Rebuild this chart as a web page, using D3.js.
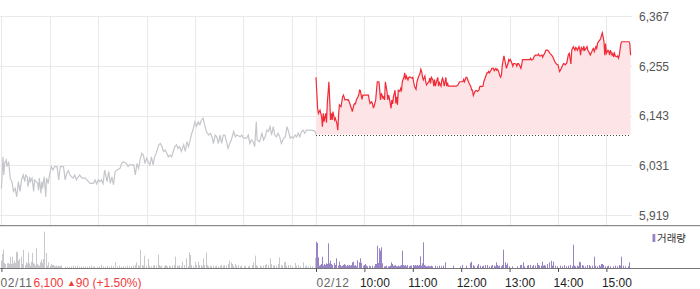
<!DOCTYPE html>
<html>
<head>
<meta charset="utf-8">
<script src="https://cdn.jsdelivr.net/npm/d3@7/dist/d3.min.js"></script>
<style>
  html, body { margin: 0; padding: 0; background: #fff; }
  svg { display: block; font-family: "Liberation Sans", Arial, sans-serif; }
</style>
</head>
<body>
<svg id="chart" width="700" height="289"></svg>
<script>
// ---------- DATA ----------
const dateLabels = ["02/11", "02/12"];
const hourLabels = ["10:00", "11:00", "12:00", "13:00", "14:00", "15:00"];
const yTicks = [5919, 6031, 6143, 6255, 6367];
const prevClose = 6100;
const summaryClose = 6100;
const summaryChange = 90;
const summaryPct = 1.50;
const legendLabel = "거래량";

// minutes after 09:00 and prices, 02/11
const day1Times = [
  0,2,3,4,6,7,9,11,13,15,
  17,19,21,23,25,27,29,30,32,33,
  35,36,38,40,41,43,45,46,47,49,
  50,51,53,55,56,58,60,62,64,66,
  69,71,73,77,79,81,83,85,87,89,
  91,93,95,97,100,104,108,110,114,116,
  118,120,122,124,126,128,131,133,135,137,
  139,141,143,147,149,151,155,157,159,164,
  166,168,170,172,174,176,178,180,182,184,
  186,188,190,192,195,197,199,201,203,205,
  207,209,211,213,215,217,219,221,223,226,
  228,230,232,234,236,238,240,242,244,246,
  248,250,252,254,257,259,261,263,265,267,
  269,271,273,275,277,279,281,283,285,288,
  290,292,296,298,300,304,306,308,310,312,
  314,316,317,320,323,325,327,329,331,333,
  335,337,339,341,343,345,347,350,352,354,
  356,358,360,362,364,366,368,370,372,374,
  376,378,383,387,389,390];
const day1Prices = [
  5979,6050,6009,6035,6043,6028,6039,6002,5994,5972,
  5979,5960,5994,5972,5998,6009,5994,6009,6005,5983,
  6005,5994,6002,5972,5998,5994,5990,5975,6002,5968,
  5994,5979,6005,5960,6002,5990,6013,6028,6020,6028,
  6028,5998,6028,6028,5998,6013,6019,6009,6005,6002,
  6009,5998,6004,6009,6002,6002,5994,5990,5990,5998,
  5989,5998,5994,5998,5990,6020,5994,6017,5990,6005,
  5987,6017,6020,6024,6035,6039,6035,6028,6032,6032,
  6009,6035,6024,6043,6058,6054,6035,6047,6039,6032,
  6050,6032,6050,6058,6077,6080,6073,6062,6065,6058,
  6050,6054,6050,6062,6073,6077,6069,6073,6062,6077,
  6062,6084,6073,6088,6103,6114,6129,6119,6129,6122,
  6133,6137,6122,6107,6099,6103,6095,6080,6099,6095,
  6080,6099,6080,6099,6099,6084,6069,6080,6088,6107,
  6095,6099,6095,6099,6092,6092,6099,6080,6088,6084,
  6073,6129,6088,6084,6103,6088,6095,6110,6107,6118,
  6099,6118,6099,6095,6103,6095,6080,6092,6095,6118,
  6107,6092,6095,6092,6099,6095,6103,6095,6107,6110,
  6103,6110,6110,6109,6107,6100];

// minutes after 09:00 and prices, 02/12
const day2Times = [
  0,2,3,5,7,8,9,10,12,13,
  14,16,17,18,19,20,21,23,24,26,
  27,28,29,31,32,33,34,36,37,38,
  39,40,42,43,44,45,47,48,49,50,
  52,53,54,55,57,58,59,65,66,67,
  69,70,71,72,74,75,76,78,79,80,
  81,83,84,85,86,88,89,90,91,93,
  94,95,96,98,99,100,101,102,104,105,
  106,107,109,110,111,112,114,115,116,117,
  119,120,121,122,124,125,126,127,129,130,
  131,132,133,135,136,137,138,140,141,142,
  143,145,146,147,148,150,151,152,153,155,
  156,157,158,159,161,162,163,164,174,176,
  178,182,183,184,186,187,188,189,190,192,
  193,194,195,197,198,199,200,202,203,204,
  205,207,208,209,210,212,213,214,215,217,
  218,220,221,223,224,225,226,228,229,230,
  231,233,234,235,236,238,239,240,241,243,
  244,245,246,248,249,250,251,252,254,255,
  256,265,266,267,269,270,271,272,275,276,
  277,278,280,281,282,283,285,287,288,290,
  291,292,293,295,296,297,298,300,301,302,
  303,305,306,307,308,309,311,312,313,314,
  316,317,318,319,321,322,323,324,326,327,
  328,329,331,332,333,334,336,337,338,339,
  340,342,343,344,345,347,348,349,350,352,
  353,354,355,357,358,359,360,362,363,364,
  365,367,368,369,370,371,373,374,375,376,
  378,379,388,389,390];
const day2Prices = [
  6229,6159,6148,6155,6140,6118,6148,6129,6148,6127,
  6170,6219,6178,6133,6148,6133,6152,6133,6137,6124,
  6110,6144,6167,6163,6174,6185,6189,6178,6179,6179,
  6178,6179,6170,6163,6159,6152,6167,6170,6169,6178,
  6185,6189,6200,6199,6179,6189,6189,6189,6178,6170,
  6174,6170,6161,6163,6178,6200,6219,6219,6200,6178,
  6193,6182,6185,6178,6219,6197,6178,6189,6182,6159,
  6178,6169,6185,6200,6170,6185,6167,6200,6197,6204,
  6200,6219,6229,6239,6224,6232,6223,6229,6230,6229,
  6227,6229,6219,6209,6202,6217,6224,6230,6238,6247,
  6242,6230,6223,6232,6219,6212,6215,6219,6227,6215,
  6229,6223,6209,6224,6209,6223,6229,6209,6217,6209,
  6223,6227,6219,6209,6229,6209,6217,6209,6209,6212,
  6219,6219,6224,6219,6229,6229,6224,6219,6215,6208,
  6200,6200,6188,6197,6199,6199,6197,6200,6208,6209,
  6208,6209,6219,6224,6229,6239,6239,6242,6239,6245,
  6249,6249,6244,6249,6245,6247,6244,6232,6229,6236,
  6257,6277,6268,6259,6249,6260,6269,6266,6269,6260,
  6254,6260,6260,6259,6254,6260,6260,6257,6249,6257,
  6269,6269,6272,6268,6269,6274,6277,6279,6279,6281,
  6277,6277,6279,6274,6279,6281,6290,6290,6289,6283,
  6281,6279,6277,6269,6264,6262,6259,6257,6249,6242,
  6245,6253,6257,6260,6259,6257,6262,6272,6281,6283,
  6259,6290,6294,6298,6290,6296,6294,6290,6298,6292,
  6279,6296,6290,6299,6290,6292,6298,6290,6287,6283,
  6279,6287,6292,6294,6287,6298,6294,6305,6309,6313,
  6317,6324,6329,6309,6279,6305,6283,6290,6287,6279,
  6290,6279,6283,6275,6283,6277,6275,6277,6272,6279,
  6305,6309,6309,6305,6279];

// volume, 02/11
const vol1Times = [
  0,1,2,3,4,5,7,8,9,10,
  11,12,14,15,16,17,19,20,21,22,
  23,25,26,27,28,30,31,32,33,35,
  36,37,38,40,41,42,43,45,46,47,
  48,50,51,52,53,54,56,57,58,59,
  61,62,63,64,66,67,68,69,71,72,
  73,74,79,82,84,87,89,92,94,97,
  99,102,104,107,109,112,114,116,119,121,
  124,126,129,131,134,136,139,141,144,146,
  149,151,154,156,159,161,164,166,168,170,
  171,173,175,176,178,180,182,184,186,188,
  190,192,195,196,197,199,202,204,205,206,
  208,210,212,214,216,218,220,221,223,225,
  227,229,230,232,233,235,236,238,240,242,
  244,245,246,248,249,251,252,254,255,257,
  259,261,263,265,267,269,271,273,275,277,
  279,281,283,285,287,288,290,292,294,296,
  298,301,303,306,308,311,313,315,316,318,
  321,323,325,327,329,331,333,334,335,337,
  339,341,343,345,347,349,351,352,354,356,
  359,361,364,366,368,371,374,377,378,381,
  383,386,389];
const vol1Values = [
  2200,4200,5500,1900,1500,1200,1400,1200,1500,1200,
  3400,1200,3400,1400,2200,1500,4900,4700,2200,1900,
  2700,3400,1200,1900,5500,900,1700,1400,4700,1400,
  700,1900,4500,1500,1200,700,5900,1200,900,700,
  1700,2500,1500,2700,4500,10900,4500,700,1500,1700,
  700,1200,900,900,700,500,700,500,700,500,
  700,700,400,400,400,500,700,500,700,400,
  500,400,500,400,500,700,400,500,400,500,
  900,500,400,700,400,700,500,1700,500,700,
  400,500,400,700,500,500,700,900,1700,900,
  500,5500,900,700,3700,700,2700,700,500,700,
  900,700,4000,900,500,700,500,900,700,500,
  700,500,700,900,3400,700,500,900,500,1900,
  900,2900,700,500,4700,3900,900,500,1900,900,
  1900,900,700,900,500,2900,900,4700,900,500,
  700,500,700,500,700,500,700,900,700,900,
  700,1200,2200,1700,1200,700,1200,700,900,500,
  700,500,700,500,700,900,1700,3700,900,500,
  700,500,700,900,1200,900,1700,2900,1200,700,
  900,700,1200,3200,900,700,1700,1900,700,900,
  900,500,1500,700,900,500,1700,500,700,500,
  700,500,3000];

// volume, 02/12
const vol2Times = [
  0,2,3,4,5,7,8,9,10,12,
  13,14,15,17,18,19,20,21,23,24,
  25,26,28,29,30,31,33,34,35,36,
  38,39,40,41,43,44,45,46,48,49,
  50,51,52,54,55,56,57,59,60,61,
  62,64,66,68,70,72,74,75,76,77,
  79,80,81,82,83,85,86,87,88,90,
  91,92,93,95,96,97,98,100,101,102,
  103,105,106,107,108,110,111,112,113,114,
  116,117,118,119,121,122,123,124,126,127,
  128,129,131,132,133,134,136,137,138,139,
  141,142,143,145,148,150,153,155,158,160,
  171,179,181,186,192,193,195,197,200,202,
  204,207,208,210,212,213,215,217,219,221,
  223,224,225,226,228,230,231,232,233,235,
  236,237,238,240,243,250,254,255,257,258,
  262,264,266,268,270,272,274,276,277,279,
  281,282,283,285,287,289,290,292,293,295,
  297,299,303,306,308,311,313,316,318,319,
  321,322,324,326,327,328,330,332,334,336,
  337,339,340,343,345,347,349,351,353,354,
  355,357,359,361,363,365,369,371,374,376,
  378,379,381,384,388,389];
const vol2Values = [
  7900,7500,3200,700,900,1200,3400,700,1200,900,
  1400,1200,7400,1400,2200,1200,700,900,1500,900,
  2900,900,700,1900,900,500,700,900,1200,900,
  500,900,700,900,700,900,1700,1900,700,900,
  500,2300,1200,1700,2900,1500,900,700,900,1200,
  700,500,700,500,700,500,1200,1200,6700,1500,
  5900,5200,6200,1400,900,500,500,700,500,500,
  500,700,1700,1200,700,700,900,500,500,700,
  500,700,900,5200,900,700,900,500,900,700,
  500,700,500,700,900,700,900,700,900,700,
  900,3500,700,1400,7700,900,700,500,500,700,
  500,500,700,500,700,500,700,500,700,1700,
  700,500,900,700,1500,1900,900,500,700,1200,
  700,500,700,900,500,900,500,700,900,700,
  500,1700,900,500,700,500,900,5500,2900,1700,
  900,700,1400,500,500,500,900,900,1700,500,
  700,900,900,500,900,700,1500,900,700,700,
  1900,700,900,700,1200,900,1700,2200,700,1900,
  700,500,700,500,900,500,700,900,500,7000,
  700,500,700,500,1900,1700,900,700,500,900,
  700,900,500,700,3400,700,500,900,500,1200,
  1200,900,500,500,700,500,500,700,500,900,
  700,3400,700,500,500,1700];

// ---------- CHART ----------
const SESSION = 390; // minutes per trading day
const svg = d3.select("#chart");
svg.append("rect").attr("width", 700).attr("height", 289).attr("fill", "#fff");

const x = d3.scaleLinear().domain([0, 2 * SESSION]).range([1.4, 630.6]);
const y = d3.scaleLinear().domain([5919, 6367]).range([215, 16]);
const yv = d3.scaleLinear().domain([0, 12000]).range([268, 228]);

const zip = (ts, vs, day) => ts.slice(0, Math.min(ts.length, vs.length))
  .map((t, i) => ({ i: day * SESSION + t, v: vs[i] }));
const d1 = zip(day1Times, day1Prices, 0);
const d2 = zip(day2Times, day2Prices, 1);
const v1 = zip(vol1Times, vol1Values, 0);
const v2 = zip(vol2Times, vol2Values, 1);

// grid
const grid = svg.append("g");
const vTicks = [0, 60, 120, 180, 240, 300, 360, 390, 450, 510, 570, 630, 690, 750];
grid.selectAll("line.h").data(yTicks).join("line")
  .attr("x1", 0).attr("x2", 632)
  .attr("y1", d => Math.round(y(d)) + 0.5).attr("y2", d => Math.round(y(d)) + 0.5)
  .attr("stroke", "#e9e9e9");
grid.selectAll("line.v").data(vTicks).join("line")
  .attr("x1", d => Math.round(x(d)) + 0.5).attr("x2", d => Math.round(x(d)) + 0.5)
  .attr("y1", 16).attr("y2", 225)
  .attr("stroke", "#e9e9e9");

// area for 02/12
const area = d3.area().x(d => x(d.i)).y0(y(prevClose)).y1(d => y(d.v));
svg.append("path").datum(d2).attr("d", area).attr("fill", "#fde5e7");

// previous close dotted line
svg.append("line")
  .attr("x1", x(SESSION)).attr("x2", x(2 * SESSION))
  .attr("y1", Math.round(y(prevClose)) + 0.5).attr("y2", Math.round(y(prevClose)) + 0.5)
  .attr("stroke", "#444").attr("stroke-dasharray", "1,2");

const line = d3.line().x(d => x(d.i)).y(d => y(d.v));
svg.append("path").datum(d1).attr("d", line)
  .attr("fill", "none").attr("stroke", "#c4c6cb").attr("stroke-width", 1.2);
svg.append("path").datum(d2).attr("d", line)
  .attr("fill", "none").attr("stroke", "#f22a36").attr("stroke-width", 1.2);

// y axis labels
const yAxis = d3.axisRight(y).tickValues(yTicks).tickFormat(d3.format(","))
  .tickSize(0).tickPadding(0);
const gy = svg.append("g").attr("transform", "translate(639,0)").call(yAxis);
gy.select(".domain").remove();
gy.selectAll("text").attr("fill", "#555").attr("font-size", 12)
  .attr("font-family", "'Liberation Sans', Arial, sans-serif").attr("dy", "0.36em");

// panel separators
svg.append("line").attr("x1", 0).attr("x2", 700).attr("y1", 225.5).attr("y2", 225.5)
  .attr("stroke", "#8a8a8a");
svg.append("line").attr("x1", 0).attr("x2", 700).attr("y1", 226.5).attr("y2", 226.5)
  .attr("stroke", "#e6e6e6");

// volume bars
svg.append("g").selectAll("rect").data(v1).join("rect")
  .attr("x", d => Math.floor(x(d.i))).attr("width", 1)
  .attr("y", d => yv(d.v)).attr("height", d => yv(0) - yv(d.v))
  .attr("fill", "#c7c8cc");
svg.append("g").selectAll("rect").data(v2).join("rect")
  .attr("x", d => Math.floor(x(d.i))).attr("width", 1)
  .attr("y", d => yv(d.v)).attr("height", d => yv(0) - yv(d.v))
  .attr("fill", "#9883c6");

// volume baseline
svg.append("line").attr("x1", 0).attr("x2", 700).attr("y1", 268.5).attr("y2", 268.5)
  .attr("stroke", "#777");

// x axis
const tickIdx = [0, SESSION].concat(hourLabels.map((h, k) => SESSION + 60 * (k + 1)));
const fmt = d => d === 0 ? dateLabels[0] : d === SESSION ? dateLabels[1]
  : hourLabels[(d - SESSION) / 60 - 1];
const xAxis = d3.axisBottom(x).tickValues(tickIdx).tickFormat(fmt).tickSize(4).tickPadding(6);
const gx = svg.append("g").attr("transform", "translate(0,268)").call(xAxis);
gx.select(".domain").remove();
gx.selectAll(".tick line").attr("stroke", "#555");
gx.selectAll(".tick text")
  .attr("font-size", 12).attr("font-family", "'Liberation Sans', Arial, sans-serif")
  .attr("text-anchor", "start")
  .attr("letter-spacing", d => (d === 0 || d === SESSION) ? 0.6 : 0)
  .attr("x", d => (d === 0 ? -1.4 : d === SESSION ? 0 : -5))
  .attr("fill", d => (d === 0 || d === SESSION) ? "#666" : "#222");

// summary text after first date
const sign = summaryChange >= 0 ? "▲" : "▼";
const sumText = svg.append("text").attr("x", 33.5).attr("y", 286.5)
  .attr("font-size", 12).attr("fill", "#f23a3a");
sumText.append("tspan").text(d3.format(",")(summaryClose) + " ");
sumText.append("tspan").attr("font-size", 9).attr("dy", -0.5).text(sign);
sumText.append("tspan").attr("dy", 0.5).text(Math.abs(summaryChange) + " (+" + summaryPct.toFixed(2) + "%)");

// legend
svg.append("rect").attr("x", 652.5).attr("y", 234).attr("width", 2.8).attr("height", 8)
  .attr("fill", "#9883c6");
svg.append("text").attr("x", 657).attr("y", 241.5)
  .attr("font-family", "'Noto Sans CJK KR', sans-serif").attr("font-size", 10.5)
  .attr("fill", "#333").text(legendLabel);
</script>
</body>
</html>
